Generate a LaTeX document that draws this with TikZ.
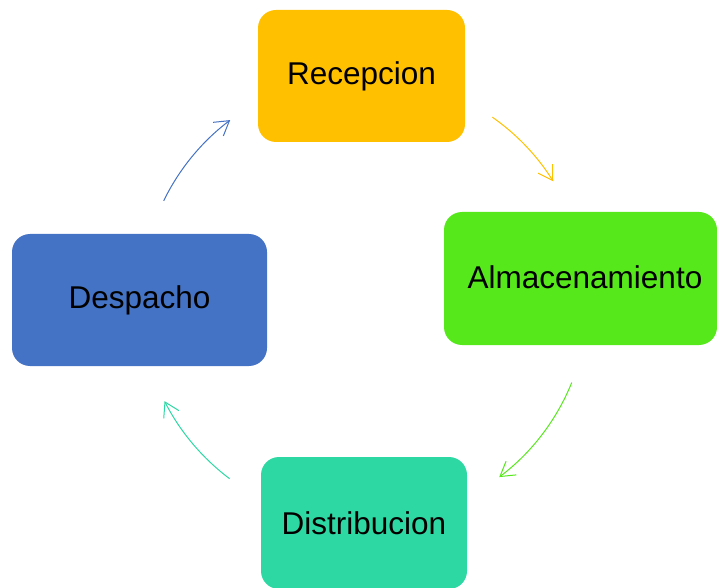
\documentclass[tikz,border=0pt]{standalone}
\usepackage{fontspec}
\setmainfont{Liberation Sans}
\usetikzlibrary{arrows.meta}
\definecolor{cRec}{HTML}{FFC000}
\definecolor{cAlm}{HTML}{56E81B}
\definecolor{cDis}{HTML}{2ED8A3}
\definecolor{cDes}{HTML}{4472C4}
\begin{document}
\begin{tikzpicture}[x=1pt,y=1pt,
  box/.style={rounded corners=18pt, inner sep=0pt, font=\fontsize{31.5}{36}\selectfont, text=black},
  arr/.style={line width=1pt, -{Straight Barb[length=14pt,width=17pt,line width=1pt]}}]
\useasboundingbox (0,0) rectangle (717,587);
\node[box, fill=cRec, minimum width=207pt, minimum height=132pt] (rec) at (361.5,511) {Recepcion};
\node[box, fill=cAlm, minimum width=273pt, minimum height=133pt] (alm) at (580.5,308.5) {};
\node[font=\fontsize{31.5}{36}\selectfont] (almt) at (585,310) {Almacenamiento};
\node[box, fill=cDis, minimum width=206pt, minimum height=132pt] (dis) at (364,64) {Distribucion};
\node[box, fill=cDes, minimum width=255pt, minimum height=132pt] (des) at (139.5,287) {Despacho};
\coordinate (ctr) at (365,288);
\draw[arr, cRec] ([shift={(55:222)}]ctr) arc[start angle=55, end angle=32, radius=222];
\draw[arr, cAlm] ([shift={(-22:223)}]ctr) arc[start angle=-22, end angle=-53, radius=223];
\draw[arr, cDis] ([shift={(-127:225)}]ctr) arc[start angle=-127, end angle=-153, radius=225];
\draw[arr, cDes] ([shift={(154:224)}]ctr) arc[start angle=154, end angle=127, radius=224];
\end{tikzpicture}
\end{document}
